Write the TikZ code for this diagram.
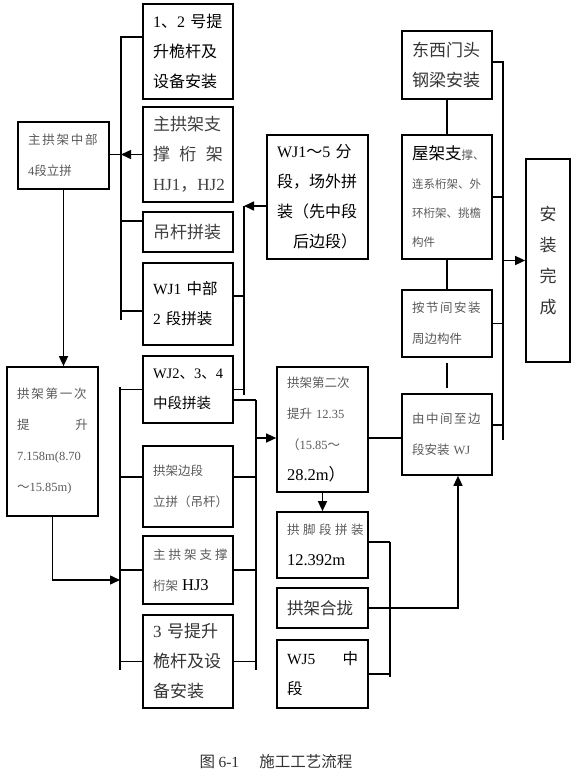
\documentclass[tikz,border=0pt]{standalone}
\usepackage{fontspec}
\setmainfont{Noto Sans CJK SC}
\newfontfamily\latinfont{Liberation Serif}
\newcommand\lat[1]{{\latinfont #1}}
\newcommand\spread[2]{{\addfontfeature{LetterSpace=#1}#2}}
\usetikzlibrary{arrows.meta,calc}

\begin{document}
\begin{tikzpicture}[
    x=1pt,y=-1pt,
    >={Triangle[length=10pt,width=9pt]},
    box/.style={
        draw,
        line width=1.7pt,
        inner xsep=10pt,
        inner ysep=0pt,
        align=left
    },
    big/.style={font=\fontsize{17}{30}\selectfont},
    mid/.style={font=\fontsize{15.5}{30}\selectfont},
    small/.style={font=\fontsize{12.5}{31}\selectfont, text=black!65},
    line/.style={line width=1.5pt},
    arr/.style={->, line width=1.5pt}
]
\newcommand\bigfont{\fontsize{16.5}{30}\selectfont\color{black}}

\useasboundingbox (0,0) rectangle (576,780);

% Upper left group
\node[box, font=\fontsize{16}{30}\selectfont, text width=70pt, minimum height=95pt] (mast12) at (188,51.5)
    {\lat{1}、\lat{2} 号提\\升桅杆及\\设备安装};
\node[box, big, text width=70pt, minimum height=95pt, text=black!75] (brace12) at (188,154.5)
    {主拱架支\\撑\hfill 桁\hfill 架\\\lat{HJ1}，\lat{HJ2}};
\node[box, big, text width=70pt, minimum height=40pt, text=black!75] (hanger) at (188,232) {吊杆拼装};
\node[box, mid, text width=70pt, minimum height=82pt] (wjmid) at (188,304)
    {\lat{WJ1} 中部\\\lat{2} 段拼装};

% Left column
\node[box, small, text width=71pt, minimum height=67pt] (archmid) at (63.5,155.5)
    {\spread{14}{主拱架中部}\\\lat{4}段立拼};
\node[box, small, text width=71pt, minimum height=149pt] (lift1) at (52.5,441.5)
    {\spread{14}{拱架第一次}\\提\hfill 升\\\lat{7.158m(8.70}\\～\lat{15.85m)}};

% Lower left group
\node[box, font=\fontsize{14.5}{30}\selectfont, text width=70pt, minimum height=67pt] (wjcent) at (188,389.5)
    {\lat{WJ2}、\lat{3}、\lat{4}\\中段拼装};
\node[box, small, text width=70pt, minimum height=81pt] (archside) at (188,486.5)
    {拱架边段\\立拼（吊杆）};
\node[box, small, text width=70pt, minimum height=68pt] (brace3) at (188,570)
    {\spread{24}{主拱架支撑}\\桁架 {\bigfont\lat{HJ3}}};
\node[box, big, text width=70pt, minimum height=93pt, text=black!80] (mast3) at (188,661.5)
    {\lat{3} 号提升\\桅杆及设\\备安装};

% Middle column
\node[box, font=\fontsize{16}{30}\selectfont, text width=81pt, minimum height=124pt] (wjseg) at (317.5,197)
    {\lat{WJ1}～\lat{5} 分\\段，场外拼\\装（先中段\\\hspace*{1em}后边段）};
\node[box, small, text width=71pt, minimum height=125pt] (lift2) at (322.5,429.5)
    {拱架第二次\\提升 \lat{12.35}\\（\lat{15.85}～\\{\bigfont\lat{28.2m}）}};
\node[box, small, text width=71pt, minimum height=66pt] (archfoot) at (322.5,545)
    {\spread{28}{拱脚段拼装}\\{\bigfont\lat{12.392m}}};
\node[box, font=\fontsize{16.5}{30}\selectfont, text width=71pt, minimum height=40pt, text=black!80] (closure) at (322.5,608) {拱架合拢};
\node[box, mid, text width=71pt, minimum height=68pt] (wj5) at (322.5,674)
    {\lat{WJ5}\hfill 中\\段};

% Right column
\node[box, big, text width=70pt, minimum height=68pt, text=black!80] (gate) at (447,65)
    {东西门头\\钢梁安装};
\node[box, font=\fontsize{11.5}{29}\selectfont, text=black!65, text width=70pt, minimum height=124pt] (roof) at (447,197)
    {{\bigfont 屋架支}撑、\\连系桁架、外\\环桁架、挑檐\\构件};
\node[box, small, text width=70pt, minimum height=67pt] (perim) at (447,323.5)
    {\spread{12}{按节间安装}\\周边构件};
\node[box, small, text width=70pt, minimum height=81pt] (wjinst) at (447,434.5)
    {\spread{12}{由中间至边}\\段安装 \lat{WJ}};
\node[box, font=\fontsize{17}{31}\selectfont, text=black!80, inner xsep=0pt, align=center,
      text width=44pt, minimum height=203pt] (done) at (548,260.5)
    {安\\装\\完\\成};

% Caption
\node[font=\fontsize{15.5}{18}\selectfont, text=black!80] (caption) at (276,762)
    {图 \lat{6-1}\hspace{1.3em}施工工艺流程};

% Offset points on the box sides
\coordinate (mast12w) at ($(mast12.west)+(0,-14.5)$);
\coordinate (hangerw) at ($(hanger.west)+(0,-11)$);
\coordinate (wjmidw) at ($(wjmid.west)+(0,7)$);
\coordinate (wjmide) at ($(wjmid.east)+(0,-8)$);
\coordinate (wjcente) at ($(wjcent.east)+(0,10.5)$);
\coordinate (archsidew) at ($(archside.west)+(0,-9.5)$);
\coordinate (archsidee) at ($(archside.east)+(0,-9.5)$);
\coordinate (wjsegw) at ($(wjseg.west)+(0,9)$);
\coordinate (lift2w) at ($(lift2.west)+(0,8.5)$);
\coordinate (lift2e) at ($(lift2.east)+(0,8.5)$);
\coordinate (wjinste) at ($(wjinst.east)+(0,-9.5)$);
\coordinate (wjinsts) at ($(wjinst.south)+(11,0)$);

% Bus of the upper left group
\coordinate (bus1t) at (121,37);
\coordinate (bus1b) at (121,320);
\draw[line] (mast12w) -- (bus1t) -- (bus1b);
\draw[line] (hangerw) -- (hangerw -| bus1t);
\draw[line] (wjmidw) -- (wjmidw -| bus1t);
\draw[arr] (brace12.west) -- (brace12.west -| bus1t);
\draw[line] (brace12.west -| bus1t) -- (brace12.west -| archmid.east);

% Left column down
\draw[arr] (archmid.south) -- (archmid.south |- lift1.north);
\coordinate (bus2t) at (120,387);
\coordinate (bus2b) at (120,670);
\draw[arr] (lift1.south) |- (bus2t |- 0,580);

% Buses of the lower left group
\coordinate (bus3t) at (256,400);
\coordinate (bus3b) at (256,670);
\draw[line] (bus2t) -- (bus2b);
\draw[line] (bus3t) -- (bus3b);
\draw[line] (wjcent.west) -- (wjcent.west -| bus2t);
\draw[line] (archsidew) -- (archsidew -| bus2t);
\draw[line] (archsidee) -- (archsidee -| bus3t);
\draw[line] (brace3.west) -- (brace3.west -| bus2t);
\draw[line] (brace3.east) -- (brace3.east -| bus3t);
\draw[line] (mast3.west) -- (mast3.west -| bus2t);
\draw[line] (mast3.east) -- (mast3.east -| bus3t);
\draw[line] (wjcente) -- (bus3t);
\draw[arr] (lift2w -| bus3t) -- (lift2w);

% WJ1~5 feeds WJ1 and WJ2-4
\coordinate (bus4t) at (244,206);
\coordinate (bus4b) at (244,395);
\draw[arr] (wjsegw) -- (bus4t);
\draw[line] (bus4t) -- (bus4b);
\draw[line] (wjmide) -- (wjmide -| bus4t);
\draw[line] (wjcent.east) -- (wjcent.east -| bus4t);

% Middle column
\draw[arr] (lift2.south) -- (archfoot.north);
\draw[line] (lift2e) -- (lift2e -| wjinst.west);
\coordinate (bus5t) at (390,542);
\coordinate (bus5b) at (390,677);
\draw[line] (bus5t) -- (bus5b);
\draw[line] (archfoot.east |- bus5t) -- (bus5t);
\draw[line] (wj5.east) -- (wj5.east -| bus5t);
\draw[arr] (closure.east) -| (wjinsts);

% Right column
\draw[line] (gate.south) -- (roof.north);
\draw[line] (roof.south) -- (perim.north);
\draw[line, shorten <=5pt, shorten >=5pt] (perim.south) -- (wjinst.north);
\coordinate (bus6t) at (503,62);
\coordinate (bus6b) at (503,440);
\draw[line] (gate.east |- bus6t) -- (bus6t) -- (bus6b);
\draw[line] (roof.east) -- (roof.east -| bus6t);
\draw[line] (perim.east) -- (perim.east -| bus6t);
\draw[line] (wjinste) -- (wjinste -| bus6t);
\draw[arr] (done.west -| bus6t) -- (done.west);

\end{tikzpicture}
\end{document}
